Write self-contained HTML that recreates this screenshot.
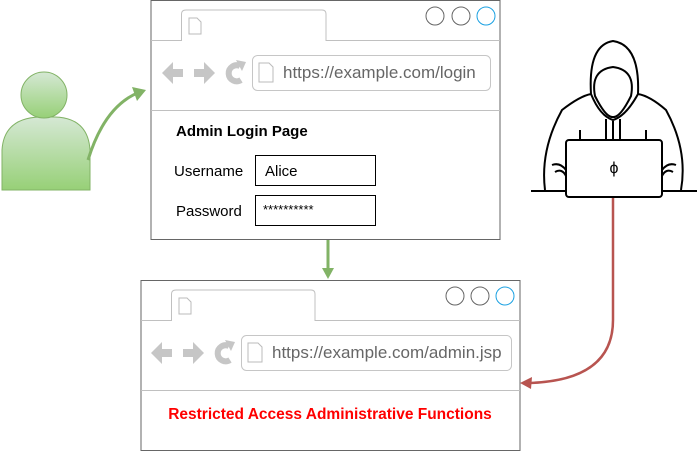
<!DOCTYPE html>
<html><head><style>body{margin:0;background:#fff}svg{display:block}</style></head><body>
<svg width="700" height="451" viewBox="0 0 700 451" xmlns="http://www.w3.org/2000/svg" font-family="Liberation Sans, sans-serif">
<defs>
<linearGradient id="g" x1="0" y1="0" x2="0" y2="1"><stop offset="0" stop-color="#d5e8d4"/><stop offset="1" stop-color="#97d077"/></linearGradient>
</defs>
<!-- user -->
<path d="M2,190 L2,150 Q4,118 40,117 L55,117 Q88,118 90,150 L90,190 Z" fill="url(#g)" stroke="#82b366" stroke-width="1"/>
<circle cx="44" cy="95" r="23" fill="url(#g)" stroke="#82b366"/>
<path d="M88,160 Q105,105 140,92" fill="none" stroke="#82b366" stroke-width="3"/>
<path d="M146,90 L132,87 L137,101 Z" fill="#82b366"/>
<!-- top browser -->
<g>
<rect x="151" y="0.5" width="349" height="239" fill="#fff" stroke="#666"/>
<path d="M151,40.5 H181.5 V14 Q181.5,10 186,10 H322 Q326,10 326,14 V40.5 H500" fill="#fff" stroke="#c0c0c0"/>
<path d="M189,18 h8 l4,4 v12 h-12z" fill="#fff" stroke="#bbb"/>
<circle cx="435" cy="16" r="9" fill="#fff" stroke="#666"/>
<circle cx="461" cy="16" r="9" fill="#fff" stroke="#666"/>
<circle cx="486" cy="16" r="9" fill="#fff" stroke="#1ba1e2"/>
<path d="M162,73 l11,-11 v7 h10 v8 h-10 v7z" fill="#c6c6c6"/>
<path d="M215,73 l-11,-11 v7 h-10 v8 h10 v7z" fill="#c6c6c6"/>
<path d="M240,66 A8,8 0 1 0 241,80" fill="none" stroke="#c6c6c6" stroke-width="6"/>
<path d="M236,60 l10,2 l-4,9z" fill="#c6c6c6"/>
<rect x="252.5" y="55.5" width="238" height="35" rx="5" fill="#fff" stroke="#c6c6c6"/>
<path d="M259,63 h10 l4,4 v15 h-14z" fill="#fff" stroke="#bbb"/>
<text x="283" y="78" font-size="17" fill="#666">https://example.com/login</text>
<line x1="151" y1="110.5" x2="500" y2="110.5" stroke="#c0c0c0"/>
<text x="176" y="136" font-size="15" font-weight="bold">Admin Login Page</text>
<text x="174" y="176" font-size="15">Username</text>
<rect x="255.5" y="155.5" width="120" height="30" fill="#fff" stroke="#000"/>
<text x="265" y="176" font-size="15">Alice</text>
<text x="176" y="216" font-size="15">Password</text>
<rect x="255.5" y="195.5" width="120" height="30" fill="#fff" stroke="#000"/>
<text x="263" y="214" font-size="13">**********</text>
</g>
<path d="M328,240 V272" stroke="#82b366" stroke-width="3"/>
<path d="M322,268 L334,268 L328,279 Z" fill="#82b366"/>
<!-- bottom browser -->
<g>
<rect x="141" y="280.5" width="379" height="170" fill="#fff" stroke="#666"/>
<path d="M141,320.5 H171.5 V294 Q171.5,290 176,290 H311 Q315,290 315,294 V320.5 H520" fill="#fff" stroke="#c0c0c0"/>
<path d="M179,298 h8 l4,4 v12 h-12z" fill="#fff" stroke="#bbb"/>
<circle cx="455" cy="296" r="9" fill="#fff" stroke="#666"/>
<circle cx="480" cy="296" r="9" fill="#fff" stroke="#666"/>
<circle cx="505" cy="296" r="9" fill="#fff" stroke="#1ba1e2"/>
<path d="M151,353 l11,-11 v7 h10 v8 h-10 v7z" fill="#c6c6c6"/>
<path d="M204,353 l-11,-11 v7 h-10 v8 h10 v7z" fill="#c6c6c6"/>
<path d="M229,346 A8,8 0 1 0 230,360" fill="none" stroke="#c6c6c6" stroke-width="6"/>
<path d="M225,340 l10,2 l-4,9z" fill="#c6c6c6"/>
<rect x="241.5" y="335.5" width="270" height="35" rx="5" fill="#fff" stroke="#c6c6c6"/>
<path d="M248,343 h10 l4,4 v15 h-14z" fill="#fff" stroke="#bbb"/>
<text x="272" y="358" font-size="17" fill="#666">https://example.com/admin.jsp</text>
<line x1="141" y1="390.5" x2="520" y2="390.5" stroke="#c0c0c0"/>
<text x="330" y="419" font-size="15.5" font-weight="bold" fill="#ff0000" text-anchor="middle">Restricted Access Administrative Functions</text>
</g>
<!-- hacker -->
<g fill="none" stroke="#000" stroke-width="2">
<path d="M591,94 Q588,45 613,41 Q640,45 638,94 Q650,96 666,110 Q688,150 681,190"/>
<path d="M591,94 Q580,96 562,110 Q540,150 545,190"/>
<path d="M595,96 Q590,70 613,67 Q636,70 631,96 Q620,118 613,117 Q606,118 595,96Z"/>
<path d="M591,94 Q600,116 613,120 Q626,116 638,94"/>
<path d="M606,119 V140 M613,121 V140 M620,119 V140"/>
<rect x="566" y="140" width="96" height="57" rx="3" fill="#fff"/>
<line x1="531" y1="191" x2="566" y2="191"/><line x1="662" y1="191" x2="697" y2="191"/>
<path d="M552,165 Q560,162 566,170 M555,172 Q562,168 566,176 M676,165 Q668,162 662,170 M673,172 Q666,168 662,176"/>
<path d="M580,130 V140 M646,130 V140"/>
</g>
<text x="614" y="173" font-size="16" text-anchor="middle">ϕ</text>
<!-- red connector -->
<path d="M613,198 V320 Q613,380 530,383" fill="none" stroke="#b85450" stroke-width="2.5"/>
<path d="M520,383 L532,377 L531,389 Z" fill="#b85450"/>
</svg>
</body></html>
